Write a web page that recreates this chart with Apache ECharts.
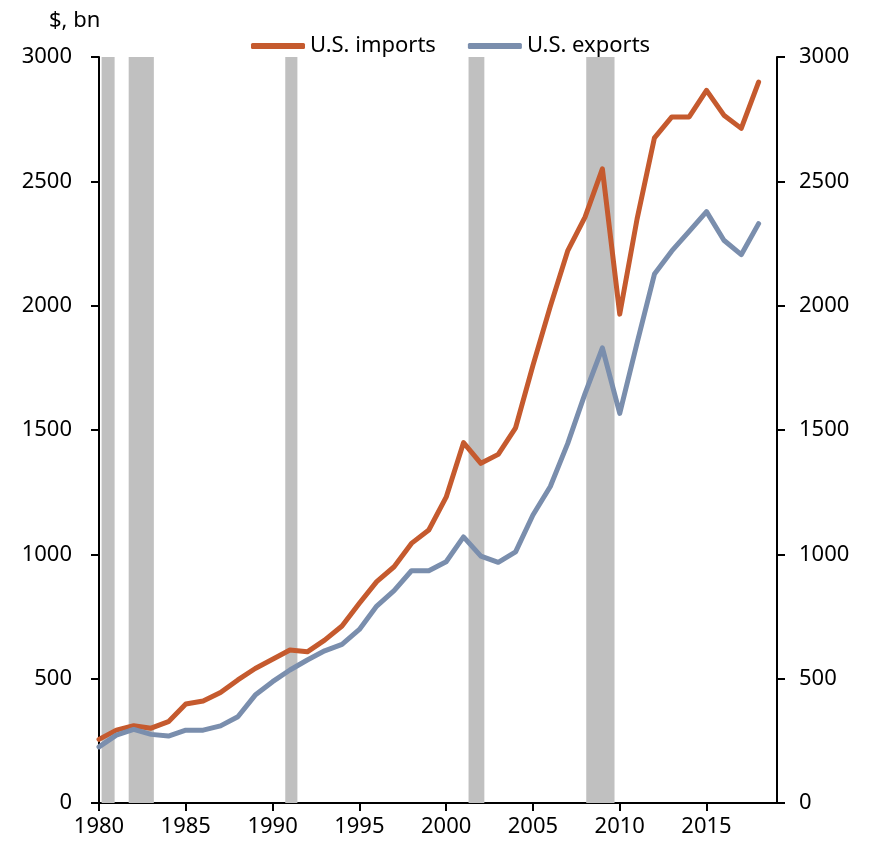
<!DOCTYPE html>
<html>
<head>
<meta charset="utf-8">
<script src="https://cdn.jsdelivr.net/npm/echarts@6/dist/echarts.min.js"></script>
<style>
  html, body { margin: 0; padding: 0; background: #fff; }
  #tradeChart { width: 870px; height: 851px; }
</style>
</head>
<body>
<div id="tradeChart"></div>
<script>
// annual values, $ bn
var years = []
for (var y = 1980; y <= 2018; y++) years.push(y)
var importsBn = [256, 293, 311, 301, 327, 398, 410, 444, 495, 541,
  578, 615, 608, 655, 712, 803, 890, 950, 1044, 1098,
  1230, 1449, 1366, 1402, 1509, 1760, 1997, 2220, 2356, 2550,
  1966, 2349, 2675, 2759, 2759, 2866, 2766, 2713, 2899]
var exportsBn = [226, 273, 296, 276, 269, 293, 293, 310, 347, 434,
  488, 535, 575, 612, 638, 698, 792, 854, 934, 934,
  970, 1070, 993, 968, 1010, 1158, 1273, 1445, 1646, 1830,
  1567, 1850, 2127, 2220, 2299, 2378, 2263, 2205, 2330]
// recession shading (start / end, fractional year)
var recStart = [1980.15, 1981.71, 1990.73, 2001.29, 2008.07]
var recEnd = [1980.9, 1983.16, 1991.43, 2002.2, 2009.7]
var xTicks = [1980, 1985, 1990, 1995, 2000, 2005, 2010, 2015]
var yTicks = [0, 500, 1000, 1500, 2000, 2500, 3000]

var font = 'Noto Sans'
var importsData = years.map(function(yr, i) { return [yr, importsBn[i]] })
var exportsData = years.map(function(yr, i) { return [yr, exportsBn[i]] })
var bands = recStart.map(function(s, i) { return [{ xAxis: s }, { xAxis: recEnd[i] }] })
var plain = function(v) { return String(v) }

var axisLine = { show: true, lineStyle: { color: '#000', width: 2 } }
var yAxisBase = {
  type: 'value',
  min: yTicks[0],
  max: yTicks[yTicks.length - 1],
  interval: 500,
  axisLine: axisLine,
  axisTick: { show: true, inside: false, length: 8, lineStyle: { color: '#000', width: 2 } },
  splitLine: { show: false },
  axisLabel: { color: '#000', fontSize: 22, fontFamily: font, formatter: plain }
}

var chart = echarts.init(document.getElementById('tradeChart'))
var option = {
  animation: false,
  title: {
    text: '$, bn',
    left: 44,
    top: 5,
    textStyle: { color: '#000', fontSize: 22, fontWeight: 'normal', fontFamily: font }
  },
  legend: {
    left: 246,
    top: 30,
    itemWidth: 54,
    itemHeight: 6,
    itemGap: 32,
    icon: 'roundRect',
    textStyle: { color: '#000', fontSize: 22, fontFamily: font, padding: [0, 0, 0, 0] },
    data: ['U.S. imports', 'U.S. exports']
  },
  grid: { left: 99, right: 93, top: 57, bottom: 48, containLabel: false },
  xAxis: {
    type: 'value',
    min: 1980,
    max: 2019.06,
    axisLine: axisLine,
    axisTick: { show: true, length: 8, lineStyle: { color: '#000', width: 2 }, customValues: xTicks },
    axisLabel: { color: '#000', fontSize: 22, fontFamily: font, margin: 13, customValues: xTicks, formatter: plain },
    splitLine: { show: false }
  },
  yAxis: [
    Object.assign({}, yAxisBase, { position: 'left', axisLabel: Object.assign({}, yAxisBase.axisLabel, { margin: 27 }) }),
    Object.assign({}, yAxisBase, { position: 'right', axisLabel: Object.assign({}, yAxisBase.axisLabel, { margin: 22 }) })
  ],
  series: [
    {
      name: 'recessions',
      type: 'line',
      data: [],
      z: 1,
      markArea: {
        silent: true,
        itemStyle: { color: '#C0C0C0' },
        data: bands
      }
    },
    {
      name: 'U.S. imports',
      type: 'line',
      data: importsData,
      showSymbol: false,
      z: 3,
      itemStyle: { color: '#C55A2E' },
      lineStyle: { color: '#C55A2E', width: 5, cap: 'round', join: 'round' }
    },
    {
      name: 'U.S. exports',
      type: 'line',
      data: exportsData,
      showSymbol: false,
      z: 3,
      itemStyle: { color: '#7A8EAD' },
      lineStyle: { color: '#7A8EAD', width: 5, cap: 'round', join: 'round' }
    }
  ]
}
chart.setOption(option)
</script>
</body>
</html>
